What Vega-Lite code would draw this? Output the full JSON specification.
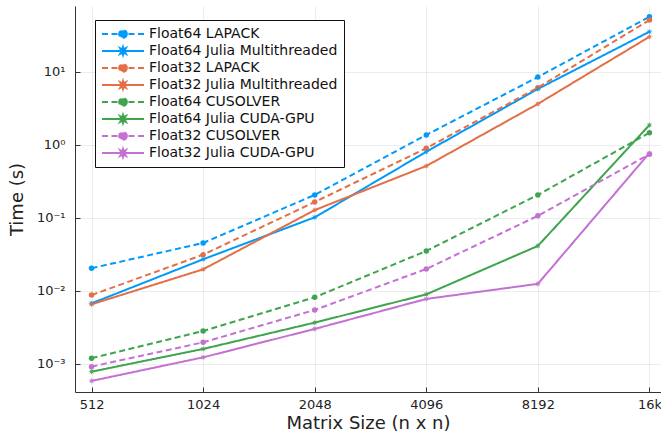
{
  "$schema": "https://vega.github.io/schema/vega-lite/v6.json",
  "width": 586,
  "height": 386,
  "autosize": {"type": "none"},
  "padding": {"left": 75, "top": 6, "right": 0, "bottom": 46},
  "background": "white",
  "config": {
    "font": "DejaVu Sans",
    "view": {"stroke": null},
    "axis": {
      "domainColor": "#333",
      "domainWidth": 1,
      "tickColor": "#333",
      "tickSize": -5,
      "gridColor": "#000",
      "gridOpacity": 0.07,
      "gridWidth": 1,
      "labelFont": "DejaVu Sans",
      "labelFontSize": 13,
      "labelColor": "#222",
      "titleFont": "DejaVu Sans",
      "titleFontSize": 18,
      "titleFontWeight": "normal",
      "titleColor": "#222"
    },
    "legend": {
      "labelFont": "DejaVu Sans",
      "labelFontSize": 14,
      "labelColor": "#111",
      "labelLimit": 400
    }
  },
  "data": {
    "values": [
      {"series": "Float64 LAPACK", "n": 512, "time": 0.0203},
      {"series": "Float64 LAPACK", "n": 1024, "time": 0.045},
      {"series": "Float64 LAPACK", "n": 2048, "time": 0.205},
      {"series": "Float64 LAPACK", "n": 4096, "time": 1.36},
      {"series": "Float64 LAPACK", "n": 8192, "time": 8.45},
      {"series": "Float64 LAPACK", "n": 16384, "time": 56.6},
      {"series": "Float64 Julia Multithreaded", "n": 512, "time": 0.0067},
      {"series": "Float64 Julia Multithreaded", "n": 1024, "time": 0.0269},
      {"series": "Float64 Julia Multithreaded", "n": 2048, "time": 0.101},
      {"series": "Float64 Julia Multithreaded", "n": 4096, "time": 0.80},
      {"series": "Float64 Julia Multithreaded", "n": 8192, "time": 5.8},
      {"series": "Float64 Julia Multithreaded", "n": 16384, "time": 35.3},
      {"series": "Float32 LAPACK", "n": 512, "time": 0.0087},
      {"series": "Float32 LAPACK", "n": 1024, "time": 0.0311},
      {"series": "Float32 LAPACK", "n": 2048, "time": 0.164},
      {"series": "Float32 LAPACK", "n": 4096, "time": 0.893},
      {"series": "Float32 LAPACK", "n": 8192, "time": 6.04},
      {"series": "Float32 LAPACK", "n": 16384, "time": 51},
      {"series": "Float32 Julia Multithreaded", "n": 512, "time": 0.0065},
      {"series": "Float32 Julia Multithreaded", "n": 1024, "time": 0.0196},
      {"series": "Float32 Julia Multithreaded", "n": 2048, "time": 0.127},
      {"series": "Float32 Julia Multithreaded", "n": 4096, "time": 0.51},
      {"series": "Float32 Julia Multithreaded", "n": 8192, "time": 3.62},
      {"series": "Float32 Julia Multithreaded", "n": 16384, "time": 30.1},
      {"series": "Float64 CUSOLVER", "n": 512, "time": 0.00119},
      {"series": "Float64 CUSOLVER", "n": 1024, "time": 0.0028},
      {"series": "Float64 CUSOLVER", "n": 2048, "time": 0.0081},
      {"series": "Float64 CUSOLVER", "n": 4096, "time": 0.035},
      {"series": "Float64 CUSOLVER", "n": 8192, "time": 0.205},
      {"series": "Float64 CUSOLVER", "n": 16384, "time": 1.46},
      {"series": "Float64 Julia CUDA-GPU", "n": 512, "time": 0.000777},
      {"series": "Float64 Julia CUDA-GPU", "n": 1024, "time": 0.00159},
      {"series": "Float64 Julia CUDA-GPU", "n": 2048, "time": 0.00365},
      {"series": "Float64 Julia CUDA-GPU", "n": 4096, "time": 0.0089},
      {"series": "Float64 Julia CUDA-GPU", "n": 8192, "time": 0.041},
      {"series": "Float64 Julia CUDA-GPU", "n": 16384, "time": 1.86},
      {"series": "Float32 CUSOLVER", "n": 512, "time": 0.00091},
      {"series": "Float32 CUSOLVER", "n": 1024, "time": 0.00196},
      {"series": "Float32 CUSOLVER", "n": 2048, "time": 0.00544},
      {"series": "Float32 CUSOLVER", "n": 4096, "time": 0.0198},
      {"series": "Float32 CUSOLVER", "n": 8192, "time": 0.106},
      {"series": "Float32 CUSOLVER", "n": 16384, "time": 0.74},
      {"series": "Float32 Julia CUDA-GPU", "n": 512, "time": 0.00058},
      {"series": "Float32 Julia CUDA-GPU", "n": 1024, "time": 0.00122},
      {"series": "Float32 Julia CUDA-GPU", "n": 2048, "time": 0.00299},
      {"series": "Float32 Julia CUDA-GPU", "n": 4096, "time": 0.0077},
      {"series": "Float32 Julia CUDA-GPU", "n": 8192, "time": 0.0124},
      {"series": "Float32 Julia CUDA-GPU", "n": 16384, "time": 0.77}
    ]
  },
  "encoding": {
    "x": {
      "field": "n",
      "type": "quantitative",
      "scale": {"type": "log", "base": 2, "domain": [462, 17604], "nice": false},
      "axis": {
        "title": "Matrix Size (n x n)",
        "values": [512, 1024, 2048, 4096, 8192, 16384],
        "labelExpr": "datum.value == 16384 ? '16k' : format(datum.value, 'd')",
        "labelPadding": 11,
        "titlePadding": 3
      }
    },
    "y": {
      "field": "time",
      "type": "quantitative",
      "scale": {"type": "log", "domain": [0.000409, 79.4], "nice": false},
      "axis": {
        "title": "Time (s)",
        "values": [0.001, 0.01, 0.1, 1, 10],
        "labelExpr": "datum.value >= 5 ? '10¹' : datum.value >= 0.5 ? '10⁰' : datum.value >= 0.05 ? '10⁻¹' : datum.value >= 0.005 ? '10⁻²' : '10⁻³'",
        "labelPadding": 15,
        "titlePadding": 10
      }
    },
    "color": {
      "field": "series",
      "type": "nominal",
      "sort": null,
      "scale": {
        "domain": ["Float64 LAPACK", "Float64 Julia Multithreaded", "Float32 LAPACK", "Float32 Julia Multithreaded", "Float64 CUSOLVER", "Float64 Julia CUDA-GPU", "Float32 CUSOLVER", "Float32 Julia CUDA-GPU"],
        "range": ["#009AFA", "#009AFA", "#E36F47", "#E36F47", "#3EA44E", "#3EA44E", "#C371D2", "#C371D2"]
      },
      "legend": {
        "title": null,
        "orient": "none",
        "legendX": 20,
        "legendY": 14,
        "padding": 6,
        "rowPadding": 1,
        "strokeColor": "#111",
        "fillColor": "white",
        "symbolSize": 196,
        "symbolStrokeWidth": 2,
        "symbolOpacity": 1,
        "labelOffset": 32,
        "labelLimit": 400,
        "labelFontSize": 14,
        "labelFont": "DejaVu Sans",
        "encode": {
          "symbols": {
            "update": {
              "shape": {"signal": "indexof(datum.value, 'Julia') >= 0 ? 'M-1,0H5M2.55,0L2.222,0.092L2.389,0.389L2.092,0.222L2,0.55L1.908,0.222L1.611,0.389L1.778,0.092L1.45,0L1.778,-0.092L1.611,-0.389L1.908,-0.222L2,-0.55L2.092,-0.222L2.389,-0.389L2.222,-0.092Z' : 'M-1,0H-0.143M0.357,0H1.214M2.786,0H3.643M4.143,0H5M2.55,0A0.55,0.55,0,1,1,1.45,0A0.55,0.55,0,1,1,2.55,0Z'"},
              "stroke": {"scale": "color", "field": "value"},
              "fill": {"scale": "color", "field": "value"},
              "strokeWidth": {"value": 2},
              "opacity": {"value": 1}
            }
          }
        }
      }
    }
  },
  "layer": [
    {
      "mark": {"type": "line", "strokeWidth": 2},
      "encoding": {
        "strokeDash": {
          "field": "series",
          "type": "nominal",
          "legend": null,
          "scale": {
            "domain": ["Float64 LAPACK", "Float64 Julia Multithreaded", "Float32 LAPACK", "Float32 Julia Multithreaded", "Float64 CUSOLVER", "Float64 Julia CUDA-GPU", "Float32 CUSOLVER", "Float32 Julia CUDA-GPU"],
            "range": [[6, 3.5], [1, 0], [6, 3.5], [1, 0], [6, 3.5], [1, 0], [6, 3.5], [1, 0]]
          }
        }
      }
    },
    {
      "transform": [{"filter": "indexof(datum.series, 'Julia') < 0"}],
      "mark": {"type": "point", "filled": true, "opacity": 1, "size": 30, "shape": "circle"}
    },
    {
      "transform": [{"filter": "indexof(datum.series, 'Julia') >= 0"}],
      "mark": {"type": "point", "filled": true, "opacity": 0.85, "size": 40, "shape": "M1,0L0.416,0.172L0.707,0.707L0.172,0.416L0,1L-0.172,0.416L-0.707,0.707L-0.416,0.172L-1,0L-0.416,-0.172L-0.707,-0.707L-0.172,-0.416L0,-1L0.172,-0.416L0.707,-0.707L0.416,-0.172Z"}
    }
  ]
}
